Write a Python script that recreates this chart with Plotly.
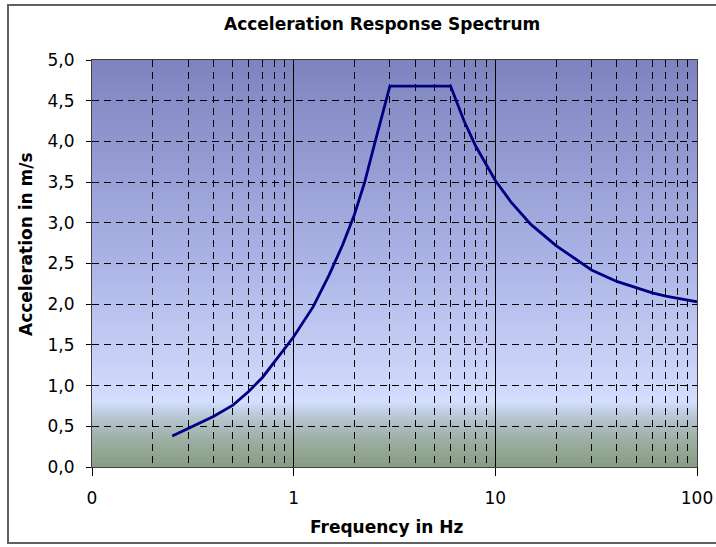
import plotly.graph_objects as go

# ---- data ----
freq_hz = [0.25, 0.3, 0.4, 0.5, 0.6, 0.7, 0.8, 0.9, 1.0, 1.25, 1.5, 1.75, 2.0,
           2.25, 2.5, 2.75, 3.0, 6.0, 7.0, 8.0, 9.0, 10.0, 12.0, 15.0, 20.0,
           25.0, 30.0, 40.0, 50.0, 60.0, 70.0, 80.0, 90.0, 100.0]
accel = [0.38, 0.47, 0.62, 0.76, 0.93, 1.10, 1.28, 1.45, 1.60, 1.97, 2.36, 2.73, 3.10,
         3.50, 3.94, 4.32, 4.68, 4.68, 4.25, 3.94, 3.71, 3.52, 3.25, 2.98, 2.72,
         2.56, 2.42, 2.28, 2.20, 2.14, 2.10, 2.07, 2.05, 2.03]

x_major_vals = [0.1, 1, 10, 100]
x_major_text = ["0", "1", "10", "100"]
x_minor_vals = [m * d for d in (0.1, 1, 10) for m in range(2, 10)]
y_tick_vals = [0, 0.5, 1.0, 1.5, 2.0, 2.5, 3.0, 3.5, 4.0, 4.5, 5.0]

FONT = "DejaVu Sans, Liberation Sans, Arial, sans-serif"

# ---- plot-area geometry (pixels) ----
W, H = 716, 547
L, R, T, B = 92, 697, 60, 467

def px_x(p):
    return (p - L) / (R - L)

def px_y(p):
    return (B - p) / (B - T)

# ---- background gradient (styling) ----
stops = [(0.0, (136, 156, 132)), (0.35, (158, 176, 164)), (0.62, (184, 198, 212)),
         (0.8, (212, 222, 255)), (1.0, (208, 216, 252)), (2.5, (172, 180, 230)),
         (5.0, (126, 131, 190))]

def color_at(v):
    for (a, ca), (b, cb) in zip(stops[:-1], stops[1:]):
        if a <= v <= b:
            t = (v - a) / (b - a)
            c = [round(ca[i] + (cb[i] - ca[i]) * t) for i in range(3)]
            return "rgb(%d,%d,%d)" % tuple(c)
    return "rgb(%d,%d,%d)" % stops[-1][1]

shapes = []
n = 200
for i in range(n):
    y0 = 5.0 * i / n
    y1 = 5.0 * (i + 1) / n
    shapes.append(dict(type="rect", xref="paper", yref="y", x0=0, x1=1,
                       y0=y0, y1=5.0, layer="below", line=dict(width=0),
                       fillcolor=color_at((y0 + y1) / 2)))

# outer chart border
shapes.append(dict(type="rect", xref="paper", yref="paper",
                   x0=px_x(8), x1=px_x(717), y0=px_y(543), y1=px_y(5),
                   line=dict(color="#606060", width=2), layer="above"))

fig = go.Figure()
fig.add_trace(go.Scatter(x=freq_hz, y=accel, mode="lines",
                         line=dict(color="#000080", width=2.8),
                         showlegend=False, hoverinfo="x+y"))

fig.update_layout(
    width=W, height=H, autosize=False,
    margin=dict(l=L, r=W - R, t=T, b=H - B, autoexpand=False),
    paper_bgcolor="white",
    plot_bgcolor="white",
    separators=",.",
    font=dict(family=FONT, size=17, color="black"),
    shapes=shapes,
    annotations=[
        dict(text="<b>Acceleration Response Spectrum</b>", xref="paper", yref="paper",
             x=px_x(382), y=px_y(24), xanchor="center", yanchor="middle",
             showarrow=False, font=dict(size=17, family=FONT)),
        dict(text="<b>Frequency in Hz</b>", xref="paper", yref="paper",
             x=px_x(386), y=px_y(527), xanchor="center", yanchor="middle",
             showarrow=False, font=dict(size=17, family=FONT)),
        dict(text="<b>Acceleration in m/s</b>", xref="paper", yref="paper",
             x=px_x(26), y=px_y(244), xanchor="center", yanchor="middle",
             textangle=-90, showarrow=False, font=dict(size=17, family=FONT)),
    ],
)

fig.update_xaxes(
    type="log", range=[-1, 2], automargin=False,
    tickmode="array", tickvals=x_major_vals, ticktext=x_major_text,
    ticks="outside", ticklen=8, tickcolor="black", tickwidth=1,
    showgrid=True, gridcolor="black", gridwidth=1,
    minor=dict(tickmode="array", tickvals=x_minor_vals, showgrid=True,
               gridcolor="black", gridwidth=1, griddash="7px,5px", ticks=""),
    showline=True, linecolor="#404040", linewidth=1, mirror=True,
    zeroline=False, tickfont=dict(size=17, family=FONT),
    ticklabelstandoff=8,
)
fig.update_yaxes(
    range=[0, 5], automargin=False, tickmode="array", tickvals=y_tick_vals, tickformat=".1f",
    ticks="outside", ticklen=5, tickcolor="black", tickwidth=1,
    showgrid=True, gridcolor="black", gridwidth=1, griddash="7px,5px",
    showline=True, linecolor="#404040", linewidth=1, mirror=True,
    zeroline=False, tickfont=dict(size=17, family=FONT),
    ticklabelstandoff=8,
)

fig.write_html("out.html",
               config={"displayModeBar": False, "responsive": False},
               post_script="document.body.style.margin='0';document.body.style.overflow='hidden';")
